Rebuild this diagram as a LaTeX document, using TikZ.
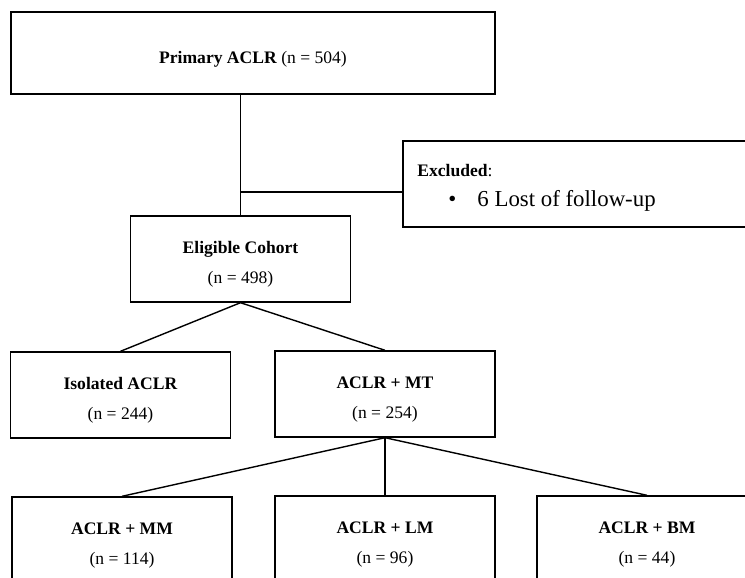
\documentclass[tikz,border=0pt]{standalone}
\usepackage{fontspec}
\setmainfont{Liberation Serif}
\newcommand{\boxlift}{\rule{0pt}{12.5pt}}
\begin{document}
\begin{tikzpicture}[
			x=0.02cm, y=-0.02cm,
			box/.style={draw, line width=0.8pt, inner sep=0pt, align=center,
				minimum width=4.4cm, minimum height=1.72cm,
				font=\fontsize{10}{17}\selectfont},
			link/.style={line width=0.8pt},
		]
		\useasboundingbox (0,0) rectangle (745,578);
		\clip (0,0) rectangle (745,578);

		\node[box, minimum width=9.68cm, minimum height=1.64cm] (prim) at (253,53) {\rule{0pt}{14pt}\textbf{Primary ACLR} (n = 504)};

		\node[draw, line width=0.8pt, minimum width=7.2cm, minimum height=1.72cm] (excl) at (583,184) {};
		\node[anchor=base west, inner sep=0pt, font=\fontsize{10}{12}\selectfont] (exhead) at (417,176) {\textbf{Excluded}:};
		\node[anchor=base west, inner sep=0pt, font=\fontsize{13}{15}\selectfont] (exitem) at (448,206) {\textbullet\hspace{12pt}6 Lost of follow-up};

		\node[box] (elig) at (240.5,259) {\boxlift\textbf{Eligible Cohort}\\(n = 498)};

		\node[box] (iso) at (120.5,395) {\boxlift\textbf{Isolated ACLR}\\(n = 244)};
		\node[box] (mt) at (385,394) {\boxlift\textbf{ACLR + MT}\\(n = 254)};

		\node[box] (mm) at (122,540) {\boxlift\textbf{ACLR + MM}\\(n = 114)};
		\node[box] (lm) at (385,539) {\boxlift\textbf{ACLR + LM}\\(n = 96)};
		\node[box] (bm) at (647,539) {\boxlift\textbf{ACLR + BM}\\(n = 44)};

		\coordinate (split) at (240,192);
		\draw[link] (prim.south -| elig.north) -- (elig.north);
		\draw[link] (split) -- (split -| excl.west);

		\draw[link] (elig.south) -- (iso.north);
		\draw[link] (elig.south) -- (mt.north);

		\draw[link] (mt.south) -- (mm.north);
		\draw[link] (mt.south) -- (lm.north);
		\draw[link] (mt.south) -- (bm.north);
	\end{tikzpicture}
\end{document}
